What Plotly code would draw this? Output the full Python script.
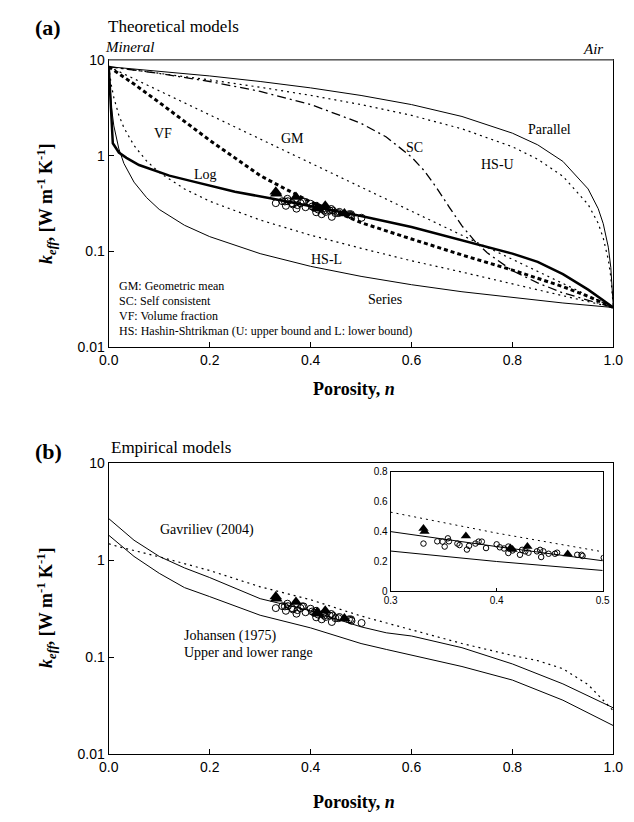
import plotly.graph_objects as go

W, H = 634, 822
def px(x): return x / W
def py(y): return 1 - y / H

# ---------------- Panel (a): theoretical models ----------------
n_par = [0, 0.1, 0.2, 0.3, 0.4, 0.5, 0.6, 0.7, 0.8, 0.85, 0.9, 0.95, 0.97, 0.98, 0.99, 0.995, 1.0]
k_par = [8.5, 7.65, 6.81, 5.96, 5.11, 4.26, 3.42, 2.57, 1.72, 1.30, 0.873, 0.45, 0.28, 0.195, 0.111, 0.068, 0.026]

n_hsu = [0, 0.1, 0.2, 0.3, 0.4, 0.5, 0.6, 0.7, 0.8, 0.85, 0.9, 0.95, 0.97, 0.98, 0.99, 0.995, 1.0]
k_hsu = [8.5, 7.29, 6.19, 5.19, 4.27, 3.42, 2.64, 1.91, 1.24, 0.92, 0.61, 0.31, 0.197, 0.138, 0.082, 0.054, 0.026]

n_sc = [0, 0.1, 0.2, 0.3, 0.4, 0.5, 0.55, 0.6, 0.625, 0.65, 0.675, 0.7, 0.725, 0.75, 0.8, 0.85, 0.9, 0.95, 1.0]
k_sc = [8.5, 7.23, 5.96, 4.70, 3.43, 2.18, 1.57, 0.97, 0.70, 0.46, 0.289, 0.185, 0.129, 0.097, 0.063, 0.047, 0.037, 0.031, 0.026]

n_gm = [0, 0.2, 0.4, 0.6, 0.8, 1.0]
k_gm = [8.5, 2.67, 0.84, 0.264, 0.083, 0.026]

n_vf = [0, 0.05, 0.1, 0.15, 0.2, 0.25, 0.3, 0.35, 0.4, 0.45, 0.5, 0.6, 0.7, 0.8, 0.9, 0.95, 1.0]
k_vf = [8.5, 5.6, 3.6, 2.3, 1.45, 0.95, 0.62, 0.45, 0.33, 0.26, 0.2, 0.135, 0.092, 0.064, 0.043, 0.034, 0.026]

n_log = [0, 0.003, 0.008, 0.02, 0.035, 0.06, 0.086, 0.12, 0.16, 0.2, 0.25, 0.32, 0.4, 0.5, 0.6, 0.7, 0.75, 0.8, 0.85, 0.9, 0.95, 1.0]
k_log = [8.5, 4.0, 1.35, 1.08, 0.95, 0.8, 0.72, 0.62, 0.55, 0.49, 0.42, 0.36, 0.3, 0.235, 0.18, 0.13, 0.11, 0.095, 0.078, 0.058, 0.04, 0.026]

n_hsl = [0, 0.005, 0.01, 0.02, 0.03, 0.05, 0.075, 0.1, 0.15, 0.2, 0.3, 0.4, 0.5, 0.6, 0.7, 0.8, 0.9, 1.0]
k_hsl = [8.5, 5.49, 4.05, 2.64, 1.96, 1.28, 0.88, 0.67, 0.45, 0.335, 0.213, 0.148, 0.108, 0.080, 0.061, 0.046, 0.035, 0.026]

n_ser = [0, 0.005, 0.01, 0.02, 0.03, 0.05, 0.075, 0.1, 0.15, 0.2, 0.3, 0.4, 0.5, 0.6, 0.7, 0.8, 0.9, 1.0]
k_ser = [8.5, 3.3, 2.05, 1.18, 0.83, 0.53, 0.365, 0.275, 0.188, 0.143, 0.095, 0.07, 0.055, 0.045, 0.038, 0.033, 0.029, 0.026]

# ---------------- Measured data (both panels) ----------------
n_tri = [0.331, 0.332, 0.371, 0.413, 0.415, 0.429, 0.467]
k_tri = [0.42, 0.40, 0.37, 0.29, 0.28, 0.30, 0.25]

n_circ = [0.331, 0.344, 0.349, 0.351, 0.354, 0.355, 0.363, 0.365, 0.372, 0.374, 0.380, 0.383,
          0.386, 0.390, 0.400, 0.403, 0.407, 0.411, 0.411, 0.415, 0.422, 0.424, 0.427, 0.430,
          0.438, 0.441, 0.442, 0.444, 0.449, 0.455, 0.457, 0.476, 0.480, 0.481, 0.501]
k_circ = [0.32, 0.335, 0.333, 0.30, 0.355, 0.335, 0.32, 0.31, 0.28, 0.305, 0.32, 0.333,
          0.333, 0.29, 0.315, 0.295, 0.287, 0.257, 0.30, 0.274, 0.245, 0.278, 0.268, 0.259,
          0.268, 0.278, 0.23, 0.268, 0.252, 0.252, 0.259, 0.245, 0.245, 0.237, 0.225]

# ---------------- Panel (b): empirical models ----------------
n_joh = [0, 0.05, 0.1, 0.15, 0.2, 0.3, 0.4, 0.5, 0.55, 0.6, 0.7, 0.8, 0.9, 1.0]
k_joh_up = [2.67, 1.6, 1.09, 0.83, 0.66, 0.40, 0.30, 0.205, 0.178, 0.165, 0.125, 0.085, 0.053, 0.030]
k_joh_lo = [1.80, 1.09, 0.73, 0.52, 0.42, 0.27, 0.20, 0.138, 0.12, 0.105, 0.08, 0.058, 0.036, 0.0197]

n_gav = [0, 0.02, 0.1, 0.2, 0.3, 0.4, 0.5, 0.6, 0.7, 0.8, 0.85, 0.9, 0.95, 1.0]
k_gav = [1.47, 1.37, 1.08, 0.78, 0.53, 0.39, 0.265, 0.19, 0.138, 0.104, 0.092, 0.076, 0.052, 0.028]

# inset
n_ins = [0.3, 0.4, 0.5]
k_ins_up = [0.40, 0.30, 0.205]
k_ins_lo = [0.27, 0.20, 0.14]
k_ins_gav = [0.53, 0.39, 0.265]

x_ticks = [0, 0.2, 0.4, 0.6, 0.8, 1.0]
x_tick_text = ["0.0", "0.2", "0.4", "0.6", "0.8", "1.0"]
y_ticks = [0.01, 0.1, 1, 10]
y_tick_text = ["0.01", "0.1", "1", "10"]
xin_ticks = [0.3, 0.4, 0.5]
xin_text = ["0.3", "0.4", "0.5"]
yin_ticks = [0, 0.2, 0.4, 0.6, 0.8]
yin_text = ["0", "0.2", "0.4", "0.6", "0.8"]

SERIF = "Liberation Serif"
SANS = "Liberation Sans"

fig = go.Figure()

def line(x, y, xa, ya, width=1, dash="solid"):
    fig.add_trace(go.Scatter(x=x, y=y, mode="lines", xaxis=xa, yaxis=ya,
                             line=dict(color="black", width=width, dash=dash),
                             showlegend=False, hoverinfo="skip"))

DOT = "2px,4px"
# panel (a)
line(n_par, k_par, "x", "y", 1)
line(n_hsu, k_hsu, "x", "y", 1.2, DOT)
line(n_sc, k_sc, "x", "y", 1.3, "9px,4px,2px,4px")
line(n_gm, k_gm, "x", "y", 1.2, DOT)
line(n_vf, k_vf, "x", "y", 3, "4px,3px")
line(n_hsl, k_hsl, "x", "y", 1.2, DOT)
line(n_ser, k_ser, "x", "y", 1)
line(n_log, k_log, "x", "y", 2.5)

def points(xa, ya, csize, tsize):
    fig.add_trace(go.Scatter(x=n_circ, y=k_circ, mode="markers", xaxis=xa, yaxis=ya,
                             marker=dict(symbol="circle-open", size=csize, color="black", line=dict(width=1)),
                             showlegend=False, cliponaxis=True))
    fig.add_trace(go.Scatter(x=n_tri, y=k_tri, mode="markers", xaxis=xa, yaxis=ya,
                             marker=dict(symbol="triangle-up", size=tsize, color="black"),
                             showlegend=False, cliponaxis=True))

points("x", "y", 7, 11)

# panel (b)
line(n_joh, k_joh_up, "x2", "y2", 1)
line(n_joh, k_joh_lo, "x2", "y2", 1)
line(n_gav, k_gav, "x2", "y2", 1.2, DOT)
points("x2", "y2", 7, 11)

# inset
line(n_ins, k_ins_up, "x3", "y3", 1)
line(n_ins, k_ins_lo, "x3", "y3", 1)
line(n_ins, k_ins_gav, "x3", "y3", 1, DOT)
points("x3", "y3", 5.5, 9)

axis_common = dict(showgrid=False, zeroline=False, showline=True, linecolor="black",
                   linewidth=1.3, mirror=True, ticks="inside", ticklen=5, tickcolor="black",
                   tickfont=dict(family=SANS, size=14, color="black"))

fig.update_layout(
    width=W, height=H, margin=dict(l=0, r=0, t=0, b=0),
    paper_bgcolor="white", plot_bgcolor="white",
    xaxis=dict(domain=[px(102), px(623)], anchor="y", range=[0, 1],
               tickvals=x_ticks, ticktext=x_tick_text, **axis_common),
    yaxis=dict(domain=[py(346), py(53)], anchor="x", type="log", range=[-2, 1],
               tickvals=y_ticks, ticktext=y_tick_text, **axis_common),
    xaxis2=dict(domain=[px(102), px(623)], anchor="y2", range=[0, 1],
                tickvals=x_ticks, ticktext=x_tick_text, **axis_common),
    yaxis2=dict(domain=[py(761), py(464)], anchor="x2", type="log", range=[-2, 1],
                tickvals=y_ticks, ticktext=y_tick_text, **axis_common),
    xaxis3=dict(domain=[px(393), px(612)], anchor="y3", range=[0.3, 0.5],
                tickvals=xin_ticks, ticktext=xin_text,
                **{**axis_common, "tickfont": dict(family=SANS, size=10, color="black"), "ticklen": 3, "linewidth": 1}),
    yaxis3=dict(domain=[py(595), py(473)], anchor="x3", range=[0, 0.8],
                tickvals=yin_ticks, ticktext=yin_text,
                **{**axis_common, "tickfont": dict(family=SANS, size=10, color="black"), "ticks": "", "linewidth": 1}),
)

# gray top border of panel (a)
fig.add_shape(type="line", xref="x domain", yref="y domain", x0=0, x1=1, y0=1, y1=1,
              line=dict(color="#808080", width=1.5), layer="above")

def ann(text, x, y, size=14, xanchor="center", yanchor="middle", angle=0, family=SERIF):
    fig.add_annotation(text=text, x=px(x), y=py(y), xref="paper", yref="paper",
                       xanchor=xanchor, yanchor=yanchor, showarrow=False, textangle=angle,
                       font=dict(family=family, size=size, color="black"))

# panel (a) texts
ann("<b>(a)</b>", 24, 20, 22, xanchor="left")
ann("Theoretical models", 99, 19, 17, xanchor="left")
ann("<i>Mineral</i>", 96, 40, 15, xanchor="left")
ann("<i>Air</i>", 614, 42, 15, xanchor="right")
ann("VF", 158, 128)
ann("GM", 292, 133)
ann("Log", 202, 170)
ann("SC", 418, 142)
ann("HS-U", 503, 160)
ann("Parallel", 557, 124)
ann("HS-L", 327, 257)
ann("Series", 387, 297)
legend_lines = ["GM: Geometric mean", "SC: Self consistent", "VF: Volume fraction",
                "HS: Hashin-Shtrikman (U: upper bound and L: lower bound)"]
for i, t in enumerate(legend_lines):
    ann(t, 110, 284 + 15 * i, 12, xanchor="left")
ann("<b>Porosity, <i>n</i></b>", 355, 389, 18)
ytitle = "<b><i>k</i><sub><i>eff</i></sub>, [W m<sup>-1</sup> K<sup>-1</sup>]</b>"
ann(ytitle, 37, 200, 18, angle=-90)

# panel (b) texts
ann("<b>(b)</b>", 24, 452, 22, xanchor="left")
ann("Empirical models", 102, 448, 17, xanchor="left")
ann("Gavriliev (2004)", 203, 532)
ann("Johansen (1975)", 178, 640, xanchor="left")
ann("Upper and lower range", 178, 657, xanchor="left")
ann("<b>Porosity, <i>n</i></b>", 355, 810, 18)
ann(ytitle, 37, 612, 18, angle=-90)

fig.write_html("out.html")
